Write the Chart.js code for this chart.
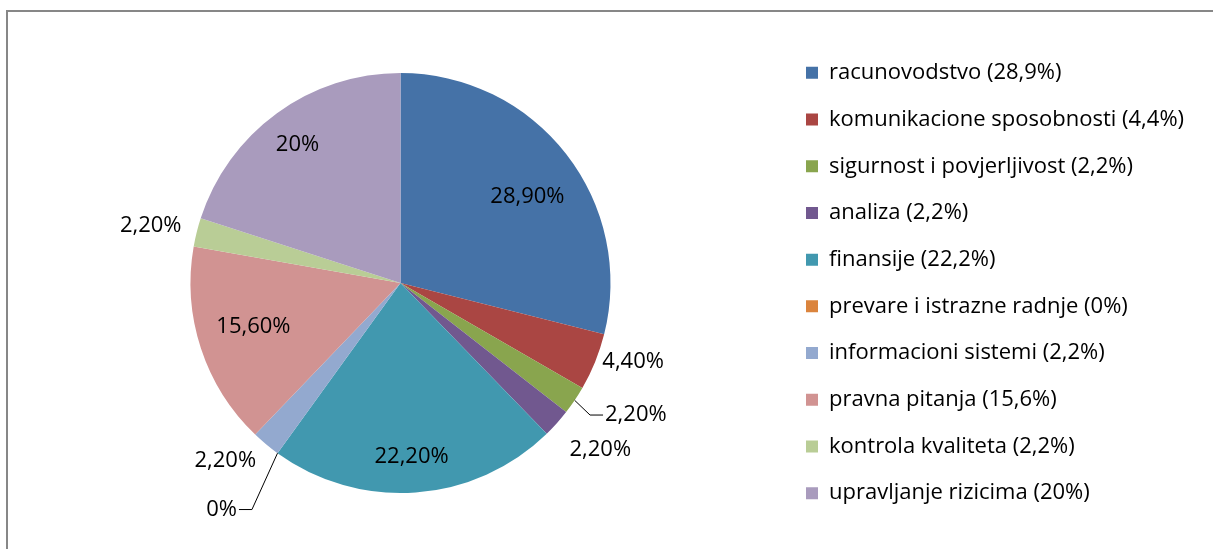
<!DOCTYPE html>
<html><head><meta charset="utf-8">
<script src="https://cdn.jsdelivr.net/npm/chart.js@4"></script>
<style>
html,body{margin:0;padding:0;background:#fff;overflow:hidden;}
#wrap{position:relative;width:1213px;height:549px;overflow:hidden;}
#frame{position:absolute;left:6px;top:10px;width:1400px;height:800px;border-left:2px solid #878787;border-top:2px solid #878787;}
canvas{position:absolute;left:0;top:0;}
</style></head><body>
<div id="wrap"><div id="frame"></div><canvas id="c" width="1213" height="549"></canvas></div>
<script>
const categories = [
  "racunovodstvo (28,9%)",
  "komunikacione sposobnosti (4,4%)",
  "sigurnost i povjerljivost (2,2%)",
  "analiza (2,2%)",
  "finansije (22,2%)",
  "prevare i istrazne radnje (0%)",
  "informacioni sistemi (2,2%)",
  "pravna pitanja (15,6%)",
  "kontrola kvaliteta (2,2%)",
  "upravljanje rizicima (20%)"
];
const values = [28.9, 4.4, 2.2, 2.2, 22.2, 0, 2.2, 15.6, 2.2, 20];
const valueLabels = ["28,90%", "4,40%", "2,20%", "2,20%", "22,20%", "0%", "2,20%", "15,60%", "2,20%", "20%"];
const colors = ["#4572A7", "#AA4643", "#89A54E", "#71588F", "#4198AF", "#DB843D", "#93A9CF", "#D19392", "#B9CD96", "#A99BBD"];

// label placement styling (relative to each slice)
const labelRadius = [0.73, 1.17, 1.10, 1.24, 0.83, 1.29, 1.19, 0.73, 1.22, 0.82];
const labelShiftDeg = [3.8, -3.3, 0.9, -2.0, 0.5, -2.6, 4.7, 1.7, -1.1, -0.7];
const leaderSide = [null, null, "right", null, null, "left", null, null, null, null];

const FONT_FAMILY = "'Open Sans', sans-serif";
const FS = 22;
const ROW = 46.7;
const PAD = ROW - FS;
const BOX = 12;
const W = 1213, H = 549;
const CX = 400.5;
const BOX_X = 806;
const RADIUS = 210;

const mctx = document.createElement('canvas').getContext('2d');
mctx.font = FS + "px " + FONT_FAMILY;
let maxW = 0;
categories.forEach(t => { maxW = Math.max(maxW, mctx.measureText(t).width); });
const legendLeft = BOX_X - PAD;
const legendWidth = PAD + BOX + FS / 2 + maxW + 10;
const padR = W - legendLeft - legendWidth;
const padL = 2 * CX - legendLeft;

const labelPlugin = {
  id: 'sliceLabels',
  afterDatasetsDraw(chart) {
    const ctx = chart.ctx;
    const meta = chart.getDatasetMeta(0);
    ctx.save();
    ctx.font = FS + "px " + FONT_FAMILY;
    ctx.fillStyle = "#000";
    ctx.strokeStyle = "#000";
    ctx.lineWidth = 1;
    ctx.textBaseline = "middle";
    meta.data.forEach((arc, i) => {
      const p = arc.getProps(['x', 'y', 'startAngle', 'endAngle', 'outerRadius'], true);
      const mid = (p.startAngle + p.endAngle) / 2;
      const a = mid + labelShiftDeg[i] * Math.PI / 180;
      const r = p.outerRadius * labelRadius[i];
      const lx = p.x + r * Math.cos(a);
      const ly = p.y + r * Math.sin(a);
      if (leaderSide[i]) {
        const ex = p.x + p.outerRadius * Math.cos(mid);
        const ey = p.y + p.outerRadius * Math.sin(mid);
        const dir = leaderSide[i] === "right" ? 1 : -1;
        ctx.beginPath();
        ctx.moveTo(ex, ey);
        ctx.lineTo(lx, ly);
        ctx.lineTo(lx + dir * 13, ly);
        ctx.stroke();
        ctx.textAlign = dir > 0 ? "left" : "right";
        ctx.fillText(valueLabels[i], lx + dir * 15, ly);
      } else {
        ctx.textAlign = "center";
        ctx.fillText(valueLabels[i], lx, ly);
      }
    });
    ctx.restore();
  }
};

new Chart(document.getElementById('c'), {
  type: 'pie',
  data: {
    labels: categories,
    datasets: [{
      data: values,
      backgroundColor: colors,
      borderWidth: 0
    }]
  },
  options: {
    responsive: false,
    animation: false,
    devicePixelRatio: 1,
    radius: RADIUS,
    layout: { padding: { left: padL, right: padR, top: 30, bottom: 13 } },
    plugins: {
      legend: {
        position: 'right',
        align: 'center',
        labels: {
          boxWidth: BOX,
          boxHeight: BOX,
          padding: PAD,
          color: "#000",
          font: { family: FONT_FAMILY, size: FS }
        }
      },
      tooltip: { enabled: false }
    }
  },
  plugins: [labelPlugin]
});
</script>
</body></html>
